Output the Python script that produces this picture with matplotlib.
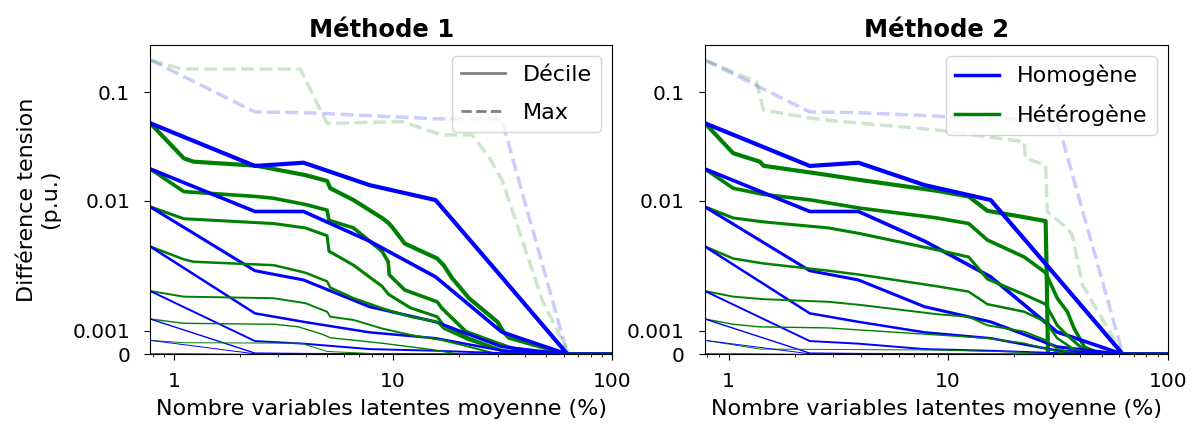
import numpy as np
import matplotlib
matplotlib.use("Agg")
import matplotlib.pyplot as plt
from matplotlib.lines import Line2D
from matplotlib.ticker import FixedLocator, NullLocator

# x positions (% of latent variables) for the homogeneous runs
X_HOM = [0.78125, 2.34375, 3.90625, 7.8125, 15.625, 31.25, 62.5, 100]

# homogeneous deciles, 9th decile first (same in both methods)
HOM_DECILES = [
    [0.0519, 0.021, 0.0225, 0.014, 0.0102, 0.0026, 0, 0],
    [0.0197, 0.0083, 0.0083, 0.0049, 0.0026, 0.00095, 0, 0],
    [0.0090, 0.0029, 0.00246, 0.00153, 0.00117, 0.00032, 0, 0],
    [0.00445, 0.00136, 0.00117, 0.00093, 0.00068, 0.00016, 0, 0],
    [0.00202, 0.00056, 0.00045, 0.00022, 0.00015, 0.00005, 0, 0],
    [0.00123, 0.00005, 0.00003, 0.00002, 0.00001, 0, 0, 0],
    [0.00059, 0.00002, 0, 0, 0, 0, 0, 0],
    [0.00004, 0, 0, 0, 0, 0, 0, 0],
    [0, 0, 0, 0, 0, 0, 0, 0],
]
HOM_MAX = [0.224, 0.066, 0.065, 0.061, 0.057, 0.057, 0, 0]

# heterogeneous, method 1
HET1_X = [
    [0.78125, 1.11, 1.23, 2.38, 3.98, 5.0, 5.17, 6.6, 8.9, 9.5, 9.9, 11.3, 15.9, 17.0, 18.6, 22.2, 29.9, 32.0, 33.8, 62.5, 100],
    [0.78125, 1.11, 2.38, 2.85, 3.98, 5.0, 5.1, 6.6, 8.9, 9.5, 9.6, 11.3, 15.9, 16.7, 21.5, 29.9, 33.8, 45, 100],
    [0.78125, 1.11, 2.85, 3.98, 5.0, 5.1, 6.6, 8.9, 9.56, 12.0, 15.9, 17.0, 22.2, 31.4, 40, 100],
    [0.78125, 1.11, 1.23, 2.85, 3.98, 5.0, 5.17, 6.6, 8.9, 12.0, 15.9, 17.0, 22.2, 31.0, 38, 100],
    [0.78125, 1.11, 2.85, 3.98, 5.0, 5.17, 6.6, 8.9, 12.0, 16.7, 22.2, 30, 100],
    [0.78125, 1.11, 2.9, 3.7, 4.75, 5.17, 8.9, 15, 20, 100],
    [0.78125, 1.11, 3.8, 5.0, 9.5, 100],
    [0.78125, 100],
    [0.78125, 100],
]
HET1_Y = [
    [0.0519, 0.0247, 0.023, 0.0211, 0.0173, 0.0153, 0.0131, 0.0102, 0.0074, 0.0068, 0.0063, 0.0047, 0.0036, 0.0032, 0.00254, 0.00178, 0.00117, 0.00093, 0.0007, 0, 0],
    [0.0197, 0.0122, 0.011, 0.0106, 0.0094, 0.0085, 0.0071, 0.0062, 0.0041, 0.0034, 0.0027, 0.00206, 0.00167, 0.00149, 0.00096, 0.00047, 0.0003, 0, 0],
    [0.0090, 0.0073, 0.0067, 0.0062, 0.0054, 0.0041, 0.0032, 0.0022, 0.0019, 0.0015, 0.00128, 0.0011, 0.00068, 0.00016, 0, 0],
    [0.00445, 0.00355, 0.0034, 0.0032, 0.0028, 0.0024, 0.00215, 0.00178, 0.00149, 0.00128, 0.00117, 0.00104, 0.0006, 0.00016, 0, 0],
    [0.00202, 0.00183, 0.00178, 0.00163, 0.0014, 0.00128, 0.00121, 0.00104, 0.00082, 0.0006, 0.00032, 0, 0],
    [0.00123, 0.00114, 0.00112, 0.00107, 0.00085, 0.0007, 0.00047, 0.0002, 0, 0],
    [0.00059, 0.00049, 0.00047, 0.00012, 0, 0],
    [0, 0],
    [0, 0],
]
HET1_MAX_X = [0.78125, 1.09, 3.77, 5.0, 11.0, 16.7, 22.9, 27.3, 31.4, 38.8, 47.9, 63.4, 100]
HET1_MAX = [0.224, 0.179, 0.179, 0.0518, 0.0537, 0.0405, 0.0405, 0.0256, 0.0156, 0.005, 0.00172, 0, 0]

# heterogeneous, method 2
HET2_X = [
    [0.78125, 1.05, 1.39, 1.44, 2.85, 3.98, 8.9, 12.4, 15.1, 22.2, 27.8, 28.1, 28.5, 100],
    [0.78125, 1.05, 1.44, 2.38, 3.98, 8.9, 12.4, 15.1, 22.2, 27.8, 31.4, 34.9, 37.5, 41.8, 50, 100],
    [0.78125, 1.05, 1.44, 2.85, 3.98, 8.9, 12.4, 15.1, 22.2, 27.8, 31.4, 34.9, 41.8, 50, 100],
    [0.78125, 1.05, 1.44, 2.85, 3.98, 8.9, 12.4, 15.1, 22.2, 27.8, 31.4, 37.5, 45, 100],
    [0.78125, 1.05, 1.44, 2.85, 3.98, 8.9, 12.4, 15.1, 22.2, 27.8, 31.4, 40, 100],
    [0.78125, 1.05, 1.39, 2.85, 8.9, 15.1, 22.2, 28.3, 35, 100],
    [0.78125, 1.39, 8.9, 20, 30, 100],
    [0.78125, 100],
    [0.78125, 100],
]
HET2_Y = [
    [0.0519, 0.0275, 0.023, 0.0211, 0.0173, 0.0156, 0.0124, 0.011, 0.0084, 0.0075, 0.0070, 0.0028, 0, 0],
    [0.0197, 0.0131, 0.0115, 0.0102, 0.0088, 0.0074, 0.0067, 0.0050, 0.0037, 0.0028, 0.00178, 0.0014, 0.00104, 0.0003, 0, 0],
    [0.0090, 0.0074, 0.0069, 0.0062, 0.0056, 0.0042, 0.0037, 0.0025, 0.0019, 0.0016, 0.0011, 0.0008, 0.00016, 0, 0],
    [0.00445, 0.0036, 0.0033, 0.0029, 0.0027, 0.0022, 0.0020, 0.0016, 0.0014, 0.00117, 0.00068, 0.0002, 0, 0],
    [0.00202, 0.00183, 0.00175, 0.00167, 0.00158, 0.00134, 0.00128, 0.0011, 0.00096, 0.0006, 0.00022, 0, 0],
    [0.00123, 0.00112, 0.00107, 0.00105, 0.00082, 0.00068, 0.00047, 0.00022, 0, 0],
    [0.00059, 0.00022, 0.00018, 0.0001, 0, 0],
    [0, 0],
    [0, 0],
]
HET2_MAX_X = [0.78125, 1.34, 1.44, 2.38, 3.0, 8.9, 22.2, 22.5, 27.8, 28.3, 34.9, 36.7, 40.9, 62.5, 100]
HET2_MAX = [0.224, 0.13, 0.0688, 0.0577, 0.0546, 0.045, 0.0351, 0.0247, 0.0214, 0.00827, 0.00616, 0.0055, 0.00225, 0, 0]

TITLES = ["Méthode 1", "Méthode 2"]
Y_TICKS = [0, 0.001, 0.01, 0.1]
Y_TICK_LABELS = ["0", "0.001", "0.01", "0.1"]
X_TICKS = [1, 10, 100]
X_TICK_LABELS = ["1", "10", "100"]

# styles
LW = [3.0, 2.6, 2.2, 1.8, 1.4, 1.0, 0.7, 0.5, 0.4]

# linear below 1e-3, then a log axis whose decades shrink a bit going up
H_KNOTS = [-10, 0, 1, 2, 3, 4, 10]
P_KNOTS = [-236, 0, 23.6, 153.3, 262.0, 354.0, 906.0]


def fwd(y):
    y = np.asarray(y, dtype=float)
    h = np.where(y < 1e-3, y / 1e-3, 1 + np.log10(np.maximum(y, 1e-3) / 1e-3))
    return np.interp(h, H_KNOTS, P_KNOTS)


def inv(p):
    p = np.asarray(p, dtype=float)
    h = np.interp(p, P_KNOTS, H_KNOTS)
    return np.where(h < 1, h * 1e-3, 1e-3 * 10 ** (np.maximum(h, 1) - 1))


fig = plt.figure(figsize=(11.98, 4.25), dpi=100)
ax1 = fig.add_axes([0.1255, 0.1664, 0.3856, 0.7278])
ax2 = fig.add_axes([0.5885, 0.1664, 0.3862, 0.7278])

panels = [(ax1, HET1_X, HET1_Y, HET1_MAX_X, HET1_MAX),
          (ax2, HET2_X, HET2_Y, HET2_MAX_X, HET2_MAX)]

for i, (ax, hx, hy, mx, my) in enumerate(panels):
    ax.set_yscale('function', functions=(fwd, inv))
    ax.set_xscale('log')

    ax.plot(X_HOM, HOM_MAX, color='blue', alpha=0.2, lw=2.5, ls='--')
    ax.plot(mx, my, color='green', alpha=0.2, lw=2.5, ls='--')
    for k in range(len(HOM_DECILES)):
        ax.plot(hx[k], hy[k], color='green', lw=LW[k])
        ax.plot(X_HOM, HOM_DECILES[k], color='blue', lw=LW[k])

    ax.set_xlim(0.78125, 100)
    ax.set_ylim(0, 0.327)
    ax.yaxis.set_major_locator(FixedLocator(Y_TICKS))
    ax.set_yticklabels(Y_TICK_LABELS)
    ax.yaxis.set_minor_locator(NullLocator())
    ax.set_xticks(X_TICKS)
    ax.set_xticklabels(X_TICK_LABELS)
    ax.tick_params(which='major', labelsize=14.5, length=4.5)
    ax.tick_params(axis='x', which='major', pad=8)
    ax.tick_params(axis='y', which='major', pad=10)
    ax.set_xlabel("Nombre variables latentes moyenne (%)", fontsize=16, labelpad=6)
    ax.set_title(TITLES[i], fontsize=17.5, fontweight='bold')

ax1.set_ylabel("Différence tension\n(p.u.)", fontsize=16)
ax1.yaxis.set_label_coords(-0.195, 0.5)

h1 = [Line2D([], [], color='gray', lw=2, ls='-'),
      Line2D([], [], color='gray', lw=2, ls='--')]
ax1.legend(h1, ["Décile", "Max"], loc='upper right', fontsize=16, labelspacing=0.8)
h2 = [Line2D([], [], color='blue', lw=2.5),
      Line2D([], [], color='green', lw=2.5)]
ax2.legend(h2, ["Homogène", "Hétérogène"], loc='upper right', fontsize=16, labelspacing=0.8)

fig.savefig("out.png", dpi=100)
